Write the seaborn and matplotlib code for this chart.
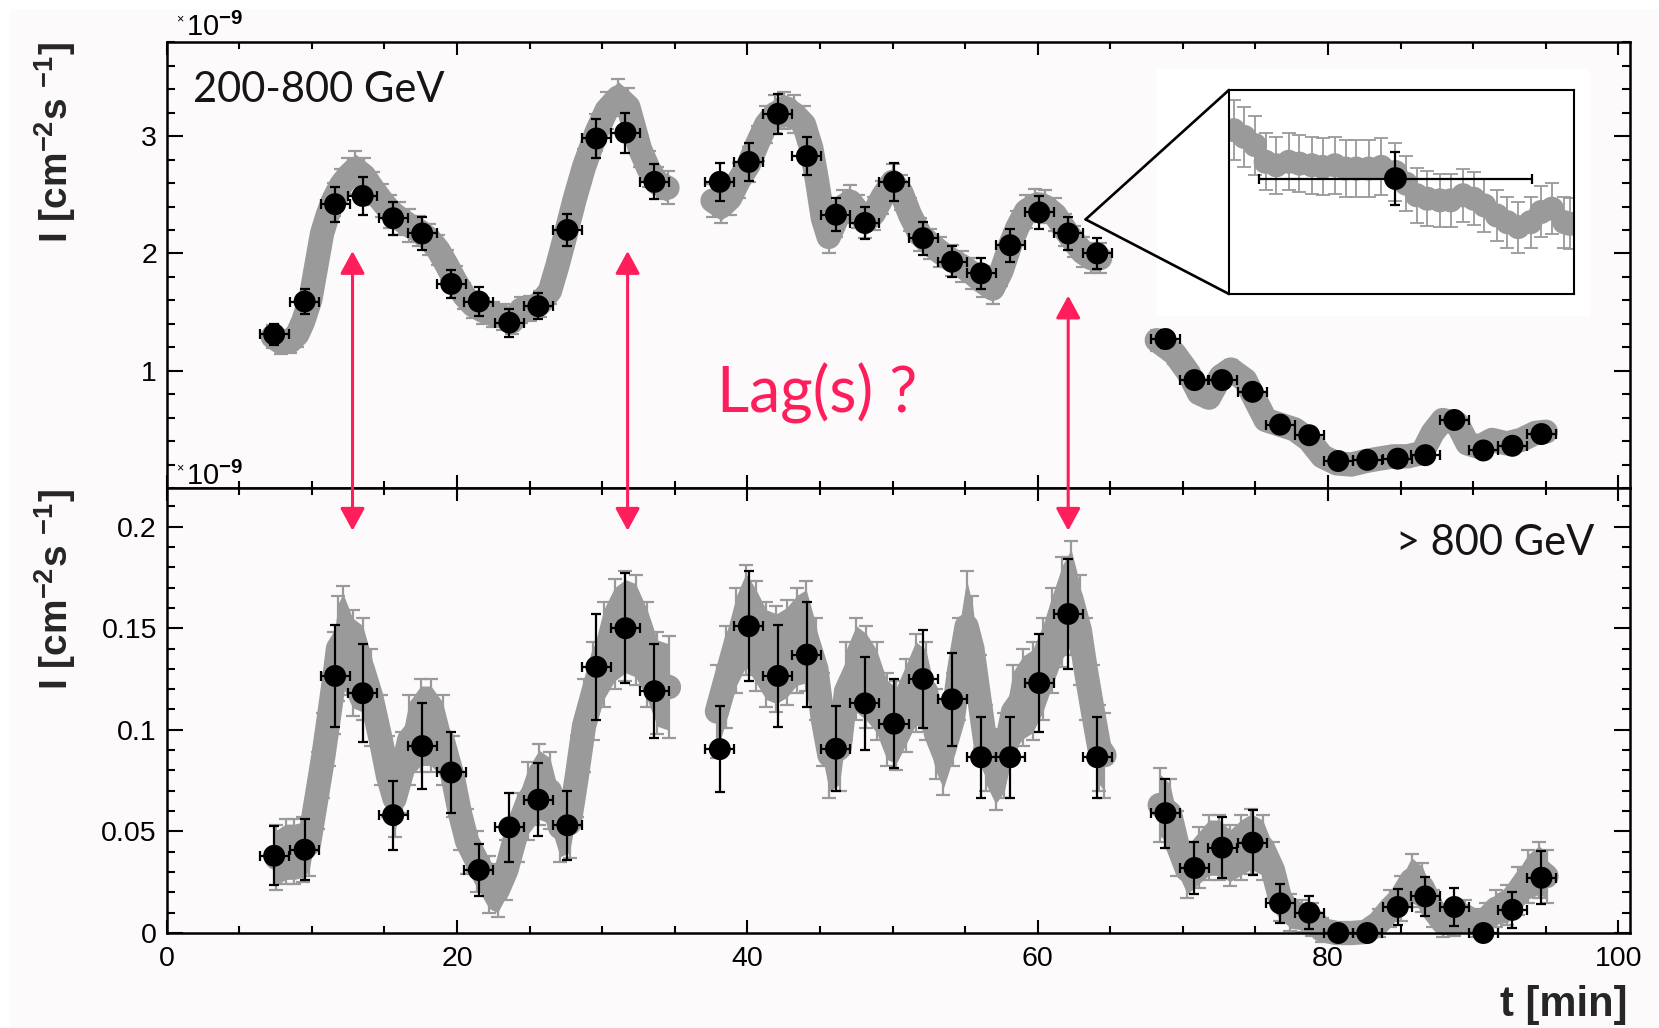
import numpy as np
import pandas as pd
import matplotlib
matplotlib.use("Agg")
import matplotlib.pyplot as plt
import seaborn as sns
from matplotlib.patches import Rectangle, ConnectionPatch
from matplotlib.ticker import MultipleLocator, FixedLocator, FixedFormatter

# ------------------------------------------------------------------ data
# 2-minute bins (black points)
t_bins = [7.4, 9.5, 11.6, 13.5, 15.6, 17.6, 19.6, 21.5, 23.6, 25.6, 27.6, 29.6, 31.6, 33.6,
          38.1, 40.1, 42.1, 44.1, 46.1, 48.1, 50.1, 52.1, 54.1, 56.1, 58.1, 60.1, 62.1, 64.1,
          68.8, 70.8, 72.7, 74.8, 76.7, 78.7, 80.7, 82.7, 84.8, 86.7, 88.7, 90.7, 92.7, 94.7]
bin_half_width = 1.0

# 200-800 GeV (x 1e-9)
low_bins = [1.31, 1.59, 2.42, 2.49, 2.30, 2.17, 1.74, 1.59, 1.41, 1.55, 2.20, 2.98, 3.03, 2.61,
            2.61, 2.78, 3.19, 2.83, 2.33, 2.26, 2.61, 2.13, 1.93, 1.83, 2.07, 2.35, 2.17, 2.00,
            1.27, 0.92, 0.92, 0.82, 0.54, 0.45, 0.23, 0.24, 0.25, 0.28, 0.58, 0.32, 0.36, 0.46]
low_bins_err = [0.09, 0.11, 0.15, 0.16, 0.14, 0.14, 0.12, 0.12, 0.12, 0.11, 0.14, 0.17, 0.17, 0.15,
                0.16, 0.16, 0.17, 0.16, 0.14, 0.14, 0.16, 0.14, 0.13, 0.13, 0.14, 0.14, 0.14, 0.13,
                0.08, 0.07, 0.07, 0.07, 0.06, 0.06, 0.05, 0.05, 0.05, 0.05, 0.06, 0.05, 0.05, 0.06]

# > 800 GeV (x 1e-9)
high_bins = [0.038, 0.041, 0.1265, 0.118, 0.058, 0.092, 0.079, 0.031, 0.052, 0.0656, 0.053, 0.131, 0.150, 0.119,
             0.0905, 0.151, 0.1265, 0.137, 0.0907, 0.113, 0.103, 0.125, 0.115, 0.0865, 0.0865, 0.123, 0.157, 0.0865,
             0.059, 0.032, 0.042, 0.0445, 0.0146, 0.010, 0.0, 0.0, 0.0128, 0.018, 0.0128, 0.0, 0.0114, 0.0272]
high_bins_err = [0.0146, 0.015, 0.025, 0.024, 0.017, 0.021, 0.020, 0.013, 0.017, 0.018, 0.017, 0.026, 0.027, 0.023,
                 0.021, 0.027, 0.025, 0.026, 0.021, 0.023, 0.022, 0.024, 0.023, 0.020, 0.020, 0.024, 0.027, 0.020,
                 0.017, 0.013, 0.015, 0.016, 0.0095, 0.008, 0.004, 0.004, 0.009, 0.0095, 0.0095, 0.004, 0.009, 0.013]

# finely sampled light curve (grey), 200-800 GeV
low_fine_t = [7.3, 7.9, 8.5, 9.0, 9.4, 9.9, 10.3, 10.7, 11.1, 11.5, 12.0, 12.5, 13.0, 13.6, 14.2,
              14.8, 15.4, 16.0, 16.7, 17.4, 18.1, 18.7, 19.3, 19.9, 20.5, 21.1, 21.8, 22.5, 23.2, 23.8,
              24.4, 25.0, 25.7, 26.4, 26.9, 27.5, 28.1, 28.75, 29.6, 30.3, 31.1, 31.8, 32.6, 33.2, 33.8, 34.5,
              37.6, 38.2, 38.8, 39.4, 40.1, 40.7, 41.3, 41.9, 42.5, 43.2, 43.9, 44.4, 44.8, 45.2, 45.6,
              46.1, 46.6, 47.1, 47.6, 48.1, 48.7, 49.3, 50.0, 50.6, 51.2, 51.9, 52.6, 53.3, 54.1, 54.8,
              55.5, 56.2, 56.9, 57.5, 58.1, 58.6, 59.2, 59.8, 60.5, 61.2, 61.9, 62.5, 63.1, 63.7, 64.3,
              68.2, 69.4, 70.4, 71.1, 71.8, 72.6, 73.3, 74.3, 75.0, 75.7, 76.7, 77.7, 78.7, 79.6, 80.6,
              81.6, 82.6, 83.5, 84.5, 85.5, 86.5, 87.2, 87.9, 88.9, 89.6, 90.4, 91.3, 92.3, 93.3, 94.3, 95.0]
low_fine = [1.29, 1.24, 1.25, 1.31, 1.42, 1.61, 1.89, 2.17, 2.33, 2.46, 2.58, 2.66, 2.72, 2.66, 2.55,
            2.45, 2.36, 2.30, 2.24, 2.19, 2.12, 2.03, 1.90, 1.76, 1.64, 1.56, 1.51, 1.48, 1.46, 1.42,
            1.52, 1.53, 1.57, 1.68, 1.89, 2.17, 2.46, 2.74, 3.03, 3.22, 3.33, 3.25, 2.89, 2.72, 2.60, 2.56,
            2.45, 2.40, 2.47, 2.62, 2.76, 2.94, 3.10, 3.19, 3.22, 3.19, 3.10, 2.90, 2.62, 2.30, 2.14,
            2.28, 2.40, 2.44, 2.36, 2.27, 2.34, 2.48, 2.61, 2.52, 2.33, 2.16, 2.08, 2.01, 1.94, 1.89,
            1.83, 1.76, 1.70, 1.85, 2.07, 2.22, 2.36, 2.41, 2.40, 2.33, 2.20, 2.10, 2.01, 1.96, 1.96,
            1.26, 1.15, 0.98, 0.81, 0.77, 0.95, 1.01, 0.92, 0.75, 0.58, 0.54, 0.50, 0.41, 0.27, 0.21,
            0.20, 0.23, 0.25, 0.27, 0.27, 0.30, 0.47, 0.58, 0.55, 0.38, 0.35, 0.41, 0.38, 0.41, 0.47, 0.48]
low_fine_err = [0.10, 0.10, 0.10, 0.11, 0.11, 0.11, 0.13, 0.13, 0.14, 0.14, 0.14, 0.15, 0.15, 0.15, 0.14,
                0.14, 0.14, 0.14, 0.14, 0.13, 0.13, 0.13, 0.13, 0.13, 0.11, 0.11, 0.11, 0.11, 0.11, 0.11,
                0.11, 0.11, 0.11, 0.11, 0.13, 0.13, 0.14, 0.15, 0.16, 0.16, 0.16, 0.16, 0.15, 0.15, 0.14, 0.14,
                0.14, 0.14, 0.14, 0.15, 0.15, 0.15, 0.16, 0.16, 0.16, 0.16, 0.16, 0.15, 0.15, 0.14, 0.14,
                0.14, 0.14, 0.14, 0.14, 0.14, 0.14, 0.14, 0.15, 0.15, 0.14, 0.14, 0.13, 0.13, 0.13, 0.13,
                0.13, 0.13, 0.13, 0.13, 0.13, 0.14, 0.14, 0.14, 0.14, 0.14, 0.14, 0.13, 0.13, 0.13, 0.13,
                0.09, 0.09, 0.08, 0.08, 0.08, 0.08, 0.08, 0.08, 0.08, 0.07, 0.07, 0.07, 0.06, 0.05, 0.05,
                0.05, 0.05, 0.05, 0.05, 0.05, 0.05, 0.06, 0.07, 0.07, 0.06, 0.06, 0.06, 0.06, 0.06, 0.06, 0.06]

# finely sampled light curve (grey), > 800 GeV
high_fine_t = [7.55, 8.2, 8.8, 9.4, 9.8, 10.4, 10.8, 11.15, 11.5, 11.8, 12.15, 12.8, 13.5, 14.1, 14.75,
               15.25, 15.7, 16.2, 16.7, 17.5, 18.2, 19.0, 19.7, 20.2, 20.7, 21.4, 22.2, 22.8, 23.4, 24.2,
               24.9, 25.65, 26.4, 27.1, 27.75, 28.25, 28.75, 29.4, 30.1, 30.85, 31.6, 32.3, 33.1, 33.8, 34.6,
               37.9, 38.55, 39.25, 39.9, 40.6, 41.3, 42.0, 42.7, 43.4, 44.05, 44.75, 45.2, 45.65, 46.35, 46.8,
               47.5, 48.2, 48.9, 49.6, 50.25, 50.9, 51.6, 52.3, 53.0, 53.5, 54.15, 54.6, 55.1, 55.5, 56.0,
               56.45, 57.1, 57.7, 58.3, 59.0, 59.65, 60.35, 61.0, 61.7, 62.3, 62.9, 63.3, 63.8, 64.25, 64.6,
               68.4, 69.1, 69.6, 70.3, 71.1, 71.8, 72.5, 73.25, 74.0, 74.7, 75.5, 76.2, 76.7, 77.4, 78.2,
               78.9, 79.6, 80.6, 81.6, 82.6, 83.5, 84.3, 85.0, 85.75, 86.5, 87.2, 87.95, 88.7, 89.4, 90.2,
               90.9, 91.6, 92.35, 93.1, 93.8, 94.55, 95.05]
high_fine = [0.037, 0.040, 0.040, 0.041, 0.044, 0.070, 0.0875, 0.105, 0.123, 0.140, 0.144, 0.133, 0.130, 0.116, 0.095,
             0.077, 0.066, 0.079, 0.095, 0.102, 0.102, 0.095, 0.077, 0.059, 0.045, 0.035, 0.024, 0.021, 0.031, 0.052,
             0.065, 0.073, 0.070, 0.052, 0.054, 0.077, 0.102, 0.119, 0.137, 0.147, 0.151, 0.149, 0.137, 0.123, 0.121,
             0.109, 0.126, 0.144, 0.154, 0.146, 0.137, 0.135, 0.138, 0.144, 0.146, 0.130, 0.105, 0.0875, 0.091, 0.119,
             0.130, 0.126, 0.119, 0.105, 0.102, 0.112, 0.123, 0.119, 0.098, 0.089, 0.105, 0.130, 0.151, 0.140, 0.114,
             0.091, 0.0805, 0.0875, 0.109, 0.116, 0.119, 0.130, 0.144, 0.158, 0.165, 0.149, 0.130, 0.109, 0.091, 0.0875,
             0.063, 0.059, 0.044, 0.031, 0.037, 0.042, 0.042, 0.038, 0.042, 0.045, 0.042, 0.031, 0.017, 0.010, 0.0084,
             0.0067, 0.0014, 0.0, 0.0, 0.0005, 0.005, 0.012, 0.017, 0.026, 0.0225, 0.012, 0.005, 0.0067, 0.0084, 0.005,
             0.0067, 0.012, 0.0137, 0.0207, 0.0278, 0.031, 0.028]
high_fine_err = [0.016, 0.016, 0.016, 0.016, 0.016, 0.019, 0.021, 0.023, 0.025, 0.026, 0.027, 0.026, 0.025, 0.024, 0.022,
                 0.020, 0.019, 0.020, 0.022, 0.023, 0.023, 0.022, 0.020, 0.018, 0.016, 0.015, 0.014, 0.013, 0.015, 0.017,
                 0.019, 0.020, 0.019, 0.017, 0.017, 0.020, 0.023, 0.024, 0.026, 0.027, 0.027, 0.027, 0.026, 0.025, 0.025,
                 0.023, 0.025, 0.026, 0.027, 0.027, 0.026, 0.026, 0.026, 0.026, 0.027, 0.025, 0.023, 0.021, 0.021, 0.024,
                 0.025, 0.025, 0.024, 0.023, 0.022, 0.023, 0.024, 0.024, 0.022, 0.021, 0.023, 0.025, 0.027, 0.026, 0.023,
                 0.021, 0.020, 0.021, 0.023, 0.024, 0.024, 0.025, 0.026, 0.027, 0.028, 0.027, 0.025, 0.023, 0.021, 0.021,
                 0.018, 0.017, 0.016, 0.014, 0.015, 0.016, 0.016, 0.015, 0.016, 0.016, 0.016, 0.014, 0.011, 0.009, 0.008,
                 0.008, 0.006, 0.005, 0.005, 0.005, 0.007, 0.009, 0.011, 0.013, 0.012, 0.009, 0.007, 0.008, 0.008, 0.007,
                 0.008, 0.009, 0.010, 0.012, 0.013, 0.014, 0.013]

# zoomed inset (one 2-min bin and its fine samples), relative units
inset_fine_t = [-1.188, -1.110, -1.031, -0.953, -0.875, -0.783, -0.705, -0.614, -0.535, -0.444,
                -0.366, -0.287, -0.196, -0.104, 0.0, 0.078, 0.157, 0.235, 0.326, 0.405,
                0.496, 0.574, 0.653, 0.744, 0.822, 0.901, 0.992, 1.070, 1.149, 1.240, 1.279]
inset_fine = [0.803, 0.770, 0.730, 0.648, 0.631, 0.648, 0.639, 0.631, 0.623, 0.631,
              0.615, 0.615, 0.615, 0.623, 0.598, 0.541, 0.484, 0.467, 0.459, 0.459,
              0.484, 0.467, 0.434, 0.385, 0.352, 0.328, 0.352, 0.402, 0.418, 0.352, 0.344]
inset_fine_err = [0.148, 0.148, 0.145, 0.14, 0.14, 0.14, 0.14, 0.14, 0.14, 0.14,
                  0.14, 0.14, 0.14, 0.14, 0.14, 0.135, 0.135, 0.135, 0.13, 0.13,
                  0.13, 0.13, 0.13, 0.125, 0.125, 0.125, 0.125, 0.125, 0.125, 0.125, 0.125]
inset_bin_t = [0.0]
inset_bin = [0.566]
inset_bin_err = [0.131]

# annotations
lag_arrow_t = [12.8, 31.75, 62.1]
lag_arrow_top = [2.02, 2.02, 1.64]
lag_arrow_bottom = [0.198, 0.198, 0.198]
zoom_apex = (63.3, 2.29)

low_yticks = [1, 2, 3]
high_yticks = [0, 0.05, 0.1, 0.15, 0.2]
high_yticklabels = ["0", "0.05", "0.1", "0.15", "0.2"]

# ------------------------------------------------------------------ style
sns.set_theme(style="ticks")
plt.rcParams['font.family'] = ['Liberation Sans', 'DejaVu Sans']
plt.rcParams['mathtext.fontset'] = 'custom'
plt.rcParams['mathtext.rm'] = 'Liberation Sans:bold'
plt.rcParams['mathtext.default'] = 'rm'

GREY = '#9a9a9a'
PINK = '#ff1e5c'
BG = '#fcfafa'
W, H = 1659, 1028
BAND_CORE = 0.85   # visual: fraction of the error drawn as a solid core band

fig = plt.figure(figsize=(W / 100, H / 100), dpi=100)
fig.patch.set_facecolor(BG)

L, R = 166.7 / W, 1630 / W
y_top_top = 1 - 42.3 / H
y_div = 1 - 488 / H
y_bot = 1 - 933 / H
ax_top = fig.add_axes([L, y_div, R - L, y_top_top - y_div])
ax_bot = fig.add_axes([L, y_bot, R - L, y_div - y_bot])


def segments(t):
    t = np.asarray(t)
    return np.concatenate([[0], np.cumsum(np.diff(t) > 2.0)])


def draw_panel(ax, ft, fv, fe, bv, be, clip, lw):
    df = pd.DataFrame({'t': ft, 'v': fv, 'e': fe, 'seg': segments(ft)})
    for _, g in df.groupby('seg'):
        ax.fill_between(g['t'], g['v'] - BAND_CORE * g['e'], g['v'] + BAND_CORE * g['e'],
                        color=GREY, linewidth=0, zorder=1.9, clip_on=clip)
    sns.lineplot(data=df, x='t', y='v', units='seg', estimator=None, sort=False,
                 color=GREY, linewidth=lw, solid_capstyle='round', solid_joinstyle='round',
                 legend=False, ax=ax, zorder=2, clip_on=clip)
    eb = ax.errorbar(ft, fv, yerr=fe, fmt='none', ecolor=GREY, elinewidth=1.6,
                     capsize=5, capthick=1.6, zorder=2.1)
    for art in list(eb.lines[1]) + list(eb.lines[2]):
        art.set_clip_on(clip)
    eb2 = ax.errorbar(t_bins, bv, xerr=bin_half_width, yerr=be, fmt='none', ecolor='black',
                      elinewidth=1.6, capsize=3.5, capthick=1.6, zorder=4)
    for art in list(eb2.lines[1]) + list(eb2.lines[2]):
        art.set_clip_on(clip)
    sns.scatterplot(x=t_bins, y=bv, s=250, color='black', edgecolor='none',
                    ax=ax, zorder=5, legend=False)
    for c in ax.collections:
        c.set_clip_on(clip)


draw_panel(ax_top, low_fine_t, low_fine, low_fine_err, low_bins, low_bins_err, True, 17.5)
draw_panel(ax_bot, high_fine_t, high_fine, high_fine_err, high_bins, high_bins_err, False, 17.5)

for ax in (ax_top, ax_bot):
    ax.set_facecolor(BG)
    for s in ax.spines.values():
        s.set_linewidth(1.8)
        s.set_color('black')
        s.set_visible(True)
        s.set_zorder(6)
    ax.set_xlim(0, 100.8)
    ax.xaxis.set_major_locator(MultipleLocator(20))
    ax.xaxis.set_minor_locator(MultipleLocator(5))
    ax.tick_params(axis='both', which='both', direction='in', top=True, right=True,
                   width=1.5, color='black', labelcolor='black', labelsize=20.5)
    ax.tick_params(axis='x', which='major', length=9.5, pad=9)
    ax.tick_params(axis='x', which='minor', length=5)
    ax.tick_params(axis='y', which='major', length=11.5, pad=7)
    ax.tick_params(axis='y', which='minor', length=5.8)
    ax.set_xlabel('')
    ax.set_ylabel('')
    ax.grid(False)

ax_top.set_ylim(0, 3.8)
ax_top.yaxis.set_major_locator(FixedLocator(low_yticks))
ax_top.yaxis.set_major_formatter(FixedFormatter([str(v) for v in low_yticks]))
ax_top.yaxis.set_minor_locator(MultipleLocator(0.2))
ax_top.tick_params(axis='x', labelbottom=False)

ax_bot.set_ylim(0, 0.219)
ax_bot.yaxis.set_major_locator(FixedLocator(high_yticks))
ax_bot.yaxis.set_major_formatter(FixedFormatter(high_yticklabels))
ax_bot.yaxis.set_minor_locator(MultipleLocator(0.01))

# ------------------------------------------------------------------ inset
fig.add_artist(Rectangle((1157 / W, 1 - 316 / H), (1590 - 1157) / W, (316 - 69) / H,
                         transform=fig.transFigure, facecolor='white', edgecolor='none', zorder=1))
ax_in = fig.add_axes([1229 / W, 1 - 294 / H, (1574 - 1229) / W, (294 - 90) / H], zorder=3)
ax_in.set_facecolor('white')
ax_in.errorbar(inset_fine_t, inset_fine, yerr=inset_fine_err, fmt='none', ecolor=GREY,
               elinewidth=1.3, capsize=5, capthick=1.3, zorder=2)
sns.scatterplot(x=inset_fine_t, y=inset_fine, s=300, color=GREY, edgecolor='none',
                ax=ax_in, zorder=2.5, legend=False)
ax_in.errorbar(inset_bin_t, inset_bin, xerr=bin_half_width, yerr=inset_bin_err, fmt='none',
               ecolor='black', elinewidth=1.6, capsize=3.5, capthick=1.6, zorder=4)
sns.scatterplot(x=inset_bin_t, y=inset_bin, s=270, color='black', edgecolor='none',
                ax=ax_in, zorder=5, legend=False)
ax_in.set_xlim(-1.222, 1.311)
ax_in.set_ylim(0, 1)
ax_in.set_xticks([])
ax_in.set_yticks([])
ax_in.set_xlabel('')
ax_in.set_ylabel('')
for s in ax_in.spines.values():
    s.set_linewidth(1.5)
    s.set_color('black')

for corner in [(0, 1), (0, 0)]:
    cp = ConnectionPatch(xyA=zoom_apex, coordsA=ax_top.transData, xyB=corner,
                         coordsB=ax_in.transAxes, color='black', lw=1.9, zorder=2.5)
    fig.add_artist(cp)

# ------------------------------------------------------------------ lag arrows
for t, ytop, ybot in zip(lag_arrow_t, lag_arrow_top, lag_arrow_bottom):
    cp = ConnectionPatch(xyA=(t, ytop), coordsA=ax_top.transData,
                         xyB=(t, ybot), coordsB=ax_bot.transData,
                         arrowstyle='<|-|>,head_length=0.55,head_width=0.3', mutation_scale=25,
                         color=PINK, lw=2.2, shrinkA=0, shrinkB=0, zorder=6)
    fig.add_artist(cp)

# ------------------------------------------------------------------ texts
fig.text(193 / W, 1 - 102 / H, '200-800 GeV', family=['Lato', 'DejaVu Sans'], size=30,
         color='#151515', ha='left', va='baseline')
fig.text(1594 / W, 1 - 555 / H, '> 800 GeV', family=['Lato', 'DejaVu Sans'], size=30,
         color='#151515', ha='right', va='baseline')
fig.text(717 / W, 1 - 413 / H, 'Lag(s) ?', family=['Lato', 'DejaVu Sans'], size=45,
         color=PINK, ha='left', va='baseline')

ylab = 'I [cm$^{-2}$s $^{-1}$]'
fig.text(55 / W, y_top_top, ylab, rotation=90, ha='center', va='top', size=28, weight='bold')
fig.text(55 / W, y_div - 1 / H, ylab, rotation=90, ha='center', va='top', size=28, weight='bold')
fig.text(1627 / W, 1 - 1016 / H, 't [min]', ha='right', va='baseline', size=30, weight='bold')

for ybase in (36, 485):
    fig.text(176 / W, 1 - (ybase - 14) / H, '×', ha='left', va='baseline', size=9, color='black')
    fig.text(186 / W, 1 - ybase / H, '10$^{-9}$', ha='left', va='baseline', size=21, color='black')

# thin white margins of the original canvas
fig.add_artist(Rectangle((0, 1 - 9 / H), 1, 9 / H, transform=fig.transFigure,
                         facecolor='white', edgecolor='none', zorder=10))
fig.add_artist(Rectangle((0, 0), 10 / W, 1, transform=fig.transFigure,
                         facecolor='white', edgecolor='none', zorder=10))

fig.savefig('out.png', dpi=100, facecolor=fig.get_facecolor())
